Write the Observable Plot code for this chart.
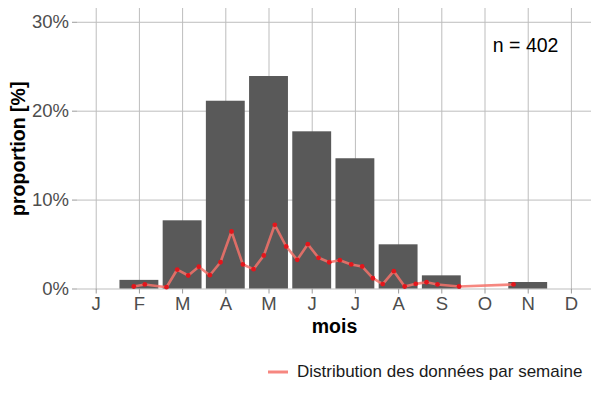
<!DOCTYPE html>
<html>
<head>
<meta charset="utf-8">
<script src="https://cdn.jsdelivr.net/npm/d3@7"></script>
<script src="https://cdn.jsdelivr.net/npm/@observablehq/plot@0.6"></script>
<style>
  html, body { margin: 0; padding: 0; background: #fff; }
  body { width: 600px; height: 400px; overflow: hidden; font-family: "Liberation Sans", Arial, sans-serif; }
  #legend { position: relative; height: 60px; }
  #legend svg { position: absolute; left: 266px; top: 26px; }
  #legend span { position: absolute; left: 297px; top: 22px; font-size: 17px; color: #1a1a1a; white-space: nowrap; }
</style>
</head>
<body>
<div id="chart"></div>
<div id="legend"><svg width="24" height="12"><line x1="2" x2="22" y1="6" y2="6" stroke="#f4726a" stroke-opacity="0.85" stroke-width="3"/></svg><span>Distribution des données par semaine</span></div>
<script>
// Monthly proportions (%)
const months = [2, 3, 4, 5, 6, 7, 8, 9, 11];
const monthPct = [0.97, 7.67, 21.12, 23.9, 17.68, 14.65, 4.97, 1.48, 0.73];

// Weekly proportions (%), positioned on the month axis
const weekX = [1.870, 2.125, 2.627, 2.875, 3.130, 3.375, 3.630, 3.877, 4.132, 4.394,
               4.641, 4.880, 5.134, 5.398, 5.653, 5.898, 6.146, 6.394, 6.639, 6.903,
               7.157, 7.403, 7.632, 7.889, 8.141, 8.396, 8.646, 8.900, 9.400, 10.660];
const weekPct = [0.28, 0.51, 0.20, 2.19, 1.52, 2.50, 1.55, 3.01, 6.47, 2.76,
                 2.23, 3.77, 7.22, 4.78, 3.28, 5.04, 3.51, 3.01, 3.24, 2.76,
                 2.53, 1.21, 0.55, 2.00, 0.28, 0.58, 0.76, 0.51, 0.28, 0.51];

const monthTicks = [1,2,3,4,5,6,7,8,9,10,11,12];
const monthLabels = ["J","F","M","A","M","J","J","A","S","O","N","D"];
const yTicks = [0, 10, 20, 30];
const nLabel = "n = 402";
const xTitle = "mois";
const yTitle = "proportion [%]";

const monthly = months.map((m, i) => ({month: m, pct: monthPct[i]}));
const weekly = weekX.map((x, i) => ({x, pct: weekPct[i]}));

const halfBar = 0.45;
const textColor = "#4d4d4d";

const chart = Plot.plot({
  width: 600,
  height: 340,
  marginLeft: 77,
  marginRight: 9,
  marginTop: 8,
  marginBottom: 51.5,
  style: {fontFamily: "Liberation Sans, Arial, sans-serif", background: "#fff"},
  x: {type: "linear", domain: [0.567, 12.465]},
  y: {domain: [0, 31.55]},
  marks: [
    Plot.gridY(yTicks, {stroke: "#bdbdbd", strokeOpacity: 1, strokeWidth: 1}),
    Plot.gridX(monthTicks, {stroke: "#bdbdbd", strokeOpacity: 1, strokeWidth: 1}),
    Plot.rectY(monthly, {x1: d => d.month - halfBar, x2: d => d.month + halfBar, y: "pct", fill: "#595959"}),
    Plot.line(weekly, {x: "x", y: "pct", stroke: "#f4726a", strokeOpacity: 0.85, strokeWidth: 2.6}),
    Plot.dot(weekly, {x: "x", y: "pct", r: 2.4, fill: "#e3161c"}),
    Plot.axisY(yTicks, {tickSize: 5, tickPadding: 3.5, tickFormat: d => d + "%", fontSize: 18.5, color: textColor, stroke: "#9a9a9a", label: null}),
    Plot.axisX(monthTicks, {tickSize: 5, tickPadding: 3, tickFormat: (d, i) => monthLabels[i], fontSize: 18.5, color: textColor, stroke: "#9a9a9a", label: null}),
    Plot.text([xTitle], {frameAnchor: "bottom", dy: 37.5, fontSize: 19.5, fontWeight: "bold", fill: "#000", textAnchor: "middle", lineAnchor: "middle"}),
    Plot.text([yTitle], {frameAnchor: "left", dx: -59, rotate: -90, fontSize: 19.5, fontWeight: "bold", fill: "#000", textAnchor: "middle", lineAnchor: "middle"}),
    Plot.text([nLabel], {x: () => 10.94, y: () => 27.4, fontSize: 19.5, fill: "#000", textAnchor: "middle", lineAnchor: "middle"})
  ]
});
document.getElementById("chart").appendChild(chart);
</script>
</body>
</html>
